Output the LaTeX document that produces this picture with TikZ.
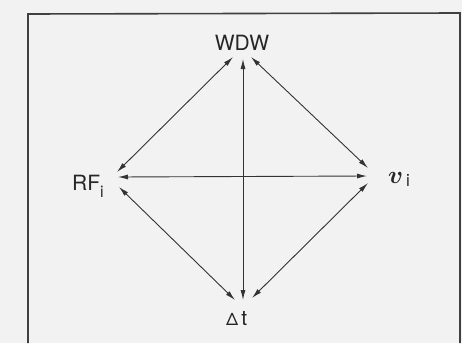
\documentclass[tikz,border=0pt]{standalone}
\usepackage{fontspec}
\setmainfont{TeX Gyre Heros}
\usepackage{bm}
\usetikzlibrary{arrows.meta,calc}
\tikzset{
  lbl/.style={inner sep=0pt, text=black!85, font=\fontsize{21}{21}\selectfont},
  arr/.style={{Latex[length=10pt,width=5pt]}-{Latex[length=10pt,width=5pt]}, line width=0.9pt, draw=black!80},
  frame/.style={line width=1.6pt, draw=black!75}
}
\begin{document}
\begin{tikzpicture}[x=1pt,y=-1pt]
\useasboundingbox (0,0) rectangle (462,343);
\fill[black!5] (0,0) rectangle (462,343);
\draw[frame] (28,343) -- (28,14) -- (460,13) -- (460,343);
% labels
\node[lbl] (W) at (242,43) {WDW};
\node[lbl, anchor=base west] (R) at (72,190) {RF\raisebox{-7pt}{\fontsize{16}{16}\selectfont i}};
\node[lbl, anchor=base west] (V) at (388,183) {{\fontsize{30}{30}\selectfont$\bm{v}$}\hspace{3pt}\raisebox{-3pt}{\fontsize{17}{17}\selectfont i}};
\node[lbl, anchor=base west] (D) at (226,325) {{\fontsize{17}{17}\selectfont Δ}\hspace{3pt}t};
% arrow end points
\coordinate (Wl) at ($(W)+(-9,14)$);
\coordinate (Wm) at ($(W)+(1,16)$);
\coordinate (Wr) at ($(W)+(9,14)$);
\coordinate (Ru) at (117,172);
\coordinate (Rm) at (118,177);
\coordinate (Rd) at (119,187);
\coordinate (Vu) at (368,168);
\coordinate (Vm) at (367,176);
\coordinate (Vd) at (368,183);
\coordinate (Dl) at (235,300);
\coordinate (Dm) at (243,300);
\coordinate (Dr) at (252,298);
% connectors
\draw[arr] (Wl) -- (Ru);
\draw[arr] (Wm) -- (Dm);
\draw[arr] (Wr) -- (Vu);
\draw[arr] (Rm) -- (Vm);
\draw[arr] (Rd) -- (Dl);
\draw[arr] (Vd) -- (Dr);
\end{tikzpicture}
\end{document}
